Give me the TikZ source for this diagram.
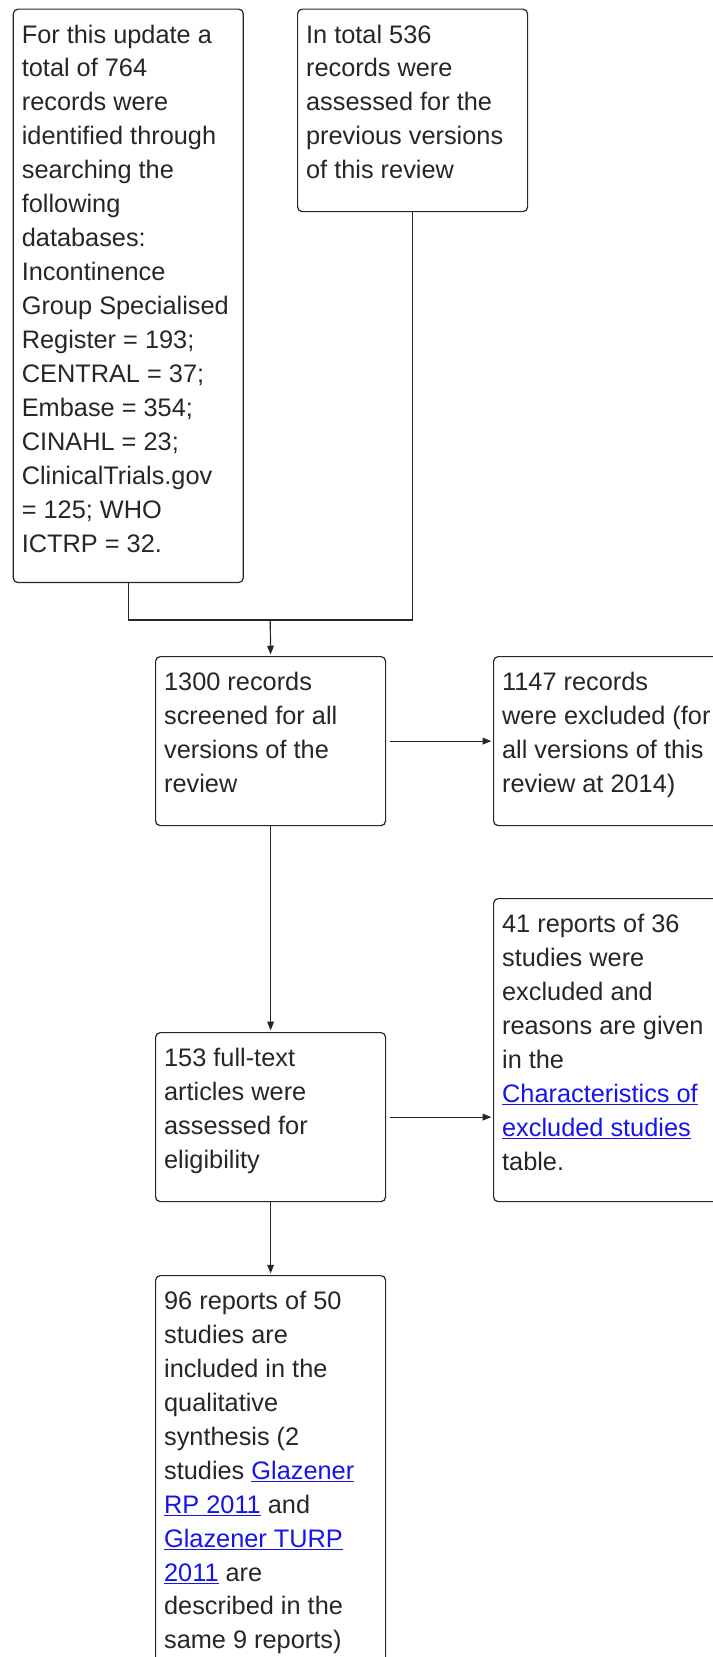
\documentclass[tikz,border=0pt]{standalone}
\usepackage{fontspec}
\setmainfont{Liberation Sans}
\usepackage{xcolor}
\usetikzlibrary{arrows.meta,positioning,calc}
\definecolor{linkblue}{RGB}{20,20,235}
\newcommand{\lnk}[1]{\textcolor{linkblue}{\underline{#1}}}
\newcommand{\bx}[2]{\parbox[t][#1][t]{159.7pt}{\raggedright\strut #2}}

\begin{document}
\begin{tikzpicture}[x=0.75pt,y=-0.75pt,
  every node/.style={font=\fontsize{19}{25.45}\selectfont},
  flowbox/.style={draw=black!85,line width=0.9pt,rounded corners=3.5pt,anchor=north west,
    inner xsep=6.4pt,inner ysep=7.65pt,text=black!85},
  link/.style={draw=black!85,line width=0.9pt},
  arr/.style={link,-{Triangle[length=6.5pt,width=5pt]},shorten >=1.2pt}]
  \useasboundingbox (0,0) rectangle (713,1657);
  \clip (0,0) rectangle (713,1657);
  % sources of records
  \node[flowbox] (search) at (12.7,8.5) {\bx{414.8pt}{For this update a\\total of 764\\records were\\identified through\\searching the\\following\\databases:\\Incontinence\\Group Specialised\\Register = 193;\\CENTRAL = 37;\\Embase = 354;\\CINAHL = 23;\\ClinicalTrials.gov\\= 125; WHO\\ICTRP = 32.}};
  \node[flowbox] (previous) at (297,8.5) {\bx{136.6pt}{In total 536\\records were\\assessed for the\\previous versions\\of this review}};
  % screening and eligibility
  \node[flowbox] (screened) at (155,656) {\bx{111.45pt}{1300 records\\screened for all\\versions of the\\review}};
  \node[flowbox] (excluded) at (493,656) {\bx{111.45pt}{1147 records\\were excluded (for\\all versions of this\\review at 2014)}};
  \node[flowbox] (reasons) at (493,898) {\bx{211.95pt}{41 reports of 36\\studies were\\excluded and\\reasons are given\\in the\\\lnk{Characteristics of}\\\lnk{excluded studies}\\table.}};
  \node[flowbox] (fulltext) at (155,1032) {\bx{111.45pt}{153 full-text\\articles were\\assessed for\\eligibility}};
  \node[flowbox] (included) at (155,1275) {\bx{284.7pt}{96 reports of 50\\studies are\\included in the\\qualitative\\synthesis (2\\studies \lnk{Glazener}\\\lnk{RP 2011} and\\\lnk{Glazener TURP}\\\lnk{2011} are\\described in the\\same 9 reports)}};
  \coordinate (merge) at (270.25,620);
  \draw[link] (search.south) |- (merge) -| (previous.south);
  \draw[arr] (merge) -- (screened.north);
  \draw[arr,shorten <=2.6pt] (screened.east) -- (excluded.west);
  \draw[arr] (screened.south) -- (fulltext.north);
  \draw[arr,shorten <=2.6pt] (fulltext.east) -- (fulltext.east -| reasons.west);
  \draw[arr] (fulltext.south) -- (included.north);
\end{tikzpicture}
\end{document}
